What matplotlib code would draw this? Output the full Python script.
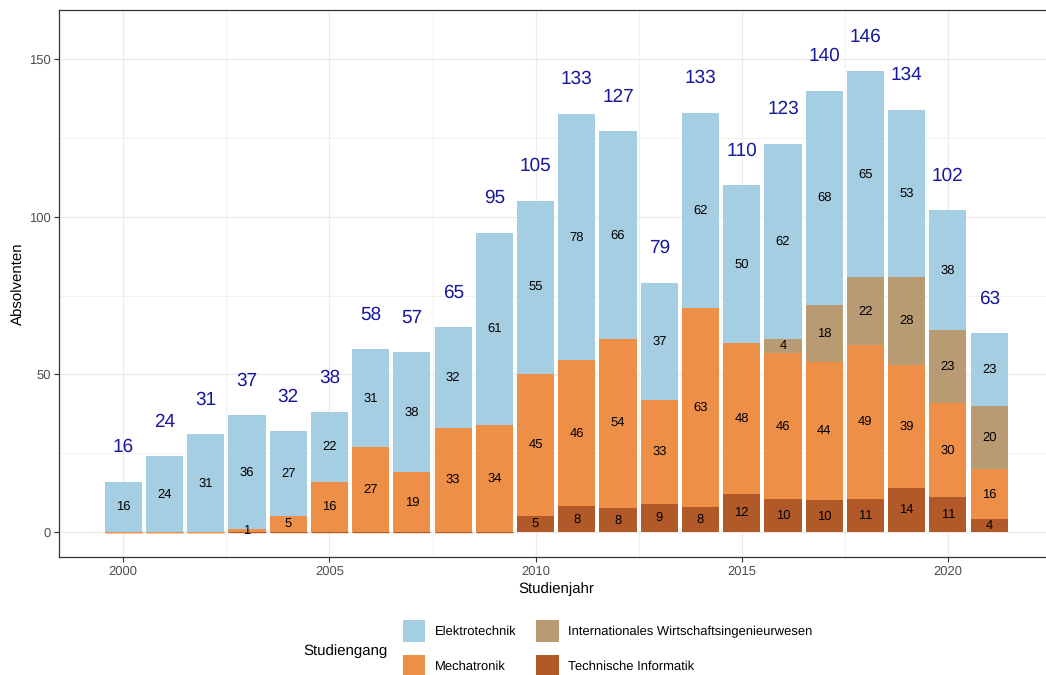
import numpy as np
import matplotlib
matplotlib.use('Agg')
import matplotlib.pyplot as plt
import matplotlib.ticker as ticker
from matplotlib.patches import Patch

plt.rcParams['font.family'] = ['Liberation Sans', 'DejaVu Sans']
plt.rcParams['text.hinting'] = 'no_hinting'
plt.rcParams['text.hinting_factor'] = 1

years = list(range(2000, 2022))

# values per Studiengang (None = not offered yet)
technische_informatik = [0, 0, 0, 0, 0, 0, 0, 0, 0, 0,
                         5, 8.2, 7.6, 9, 8, 12, 10.4, 10, 10.6, 14, 11, 4]
mechatronik = [0, 0, 0, 1, 5, 16, 27, 19, 33, 34,
               45, 46.3, 53.6, 33, 63, 48, 46.4, 44, 48.6, 39, 30, 16]
wirtschaftsing = [None] * 16 + [4.4, 18, 21.6, 28, 23, 20]
elektrotechnik = [16, 24, 31, 36, 27, 22, 31, 38, 32, 61,
                  55, 78.1, 65.9, 37, 62, 50, 61.9, 68, 65.4, 53, 38, 23]

series = [
    ('Technische Informatik', technische_informatik, '#b15928'),
    ('Mechatronik', mechatronik, '#ee8f47'),
    ('Internationales Wirtschaftsingenieurwesen', wirtschaftsing, '#b89b73'),
    ('Elektrotechnik', elektrotechnik, '#a6cee3'),
]

fig = plt.figure(figsize=(10.46, 6.75), dpi=100)
# panel runs a little past the right edge, like the cropped original
ax = fig.add_axes([0.0564, 0.1748, 0.9503, 0.8104])

x = np.array(years)
bottom = np.zeros(len(years))
width = 0.9
for name, vals, col in series:
    for i, v in enumerate(vals):
        if v is None:
            continue
        if v == 0:
            # zero rows still show up as a hairline
            ax.bar(x[i], 0, width, bottom=bottom[i], color=col,
                   edgecolor=col, linewidth=1.0, zorder=2)
            continue
        ax.bar(x[i], v, width, bottom=bottom[i], color=col, linewidth=0, zorder=2)
        ax.text(x[i], bottom[i] + v / 2, str(int(round(v))), ha='center',
                va='center', fontsize=9.5, color='black', zorder=3)
        bottom[i] += v

for i, tot in enumerate(bottom):
    ax.text(x[i], tot + 11, str(int(round(tot))), ha='center', va='center',
            fontsize=14, color='#18189a', zorder=3)

ax.set_xlim(1998.44, 2022.55)
ax.set_ylim(-7.93, 165.6)
ax.xaxis.set_major_locator(ticker.MultipleLocator(5))
ax.xaxis.set_minor_locator(ticker.MultipleLocator(2.5))
ax.yaxis.set_major_locator(ticker.MultipleLocator(50))
ax.yaxis.set_minor_locator(ticker.MultipleLocator(25))
ax.grid(which='major', color='#ebebeb', linewidth=0.9, zorder=0)
ax.grid(which='minor', color='#ebebeb', linewidth=0.5, zorder=0)
ax.set_axisbelow(True)
ax.tick_params(which='major', length=3.5, color='#333333', labelcolor='#4d4d4d',
               labelsize=9, pad=2.5)
ax.tick_params(which='minor', length=0)
for s in ax.spines.values():
    s.set_color('#333333')
    s.set_linewidth(0.9)

ax.set_xlabel('Studienjahr', fontsize=11, labelpad=3)
ax.set_ylabel('Absolventen', fontsize=11, labelpad=2)

order = ['Elektrotechnik', 'Mechatronik',
         'Internationales Wirtschaftsingenieurwesen', 'Technische Informatik']
colors = {n: c for n, _, c in series}
handles = [Patch(facecolor=colors[n], edgecolor='none', label=n) for n in order]
fig.legend(handles=handles, loc='upper left', bbox_to_anchor=(0.385, 0.081),
           ncol=2, frameon=False, fontsize=9, handlelength=1.8, handleheight=2.3,
           handletextpad=0.75, labelspacing=1.05, columnspacing=1.6, borderpad=0,
           borderaxespad=0)
fig.text(0.29, 1 - 651 / 675, 'Studiengang', fontsize=11, ha='left', va='center')

fig.savefig('out.png', dpi=100)
